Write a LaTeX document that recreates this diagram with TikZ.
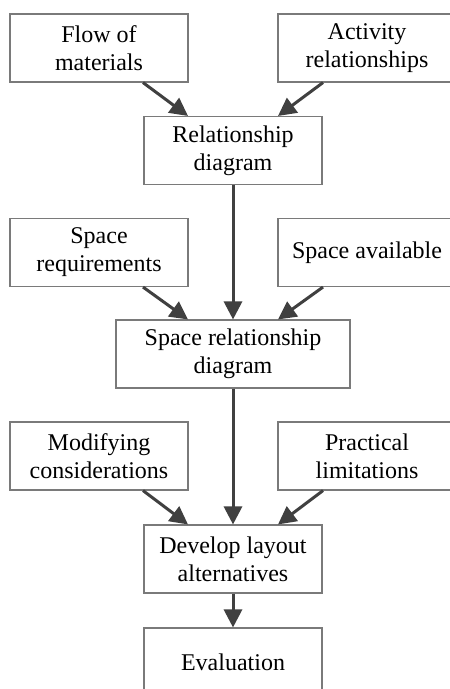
\documentclass[tikz,border=0pt]{standalone}
\usepackage{fontspec}
\setmainfont{Liberation Serif}
\usetikzlibrary{arrows.meta,calc}
\definecolor{boxline}{HTML}{7A7A7A}
\definecolor{arrcol}{HTML}{404040}
\tikzset{
  box/.style={draw=boxline, line width=1.1pt, fill=white, align=center, inner sep=0pt,
    minimum width=178pt, minimum height=68pt,
    font=\fontsize{24pt}{28pt}\selectfont, text=black},
  widebox/.style={box, minimum width=234pt},
  arr/.style={draw=arrcol, line width=3pt, -{Triangle[length=18pt,width=18pt]}}
}
\begin{document}
\begin{tikzpicture}[x=1pt,y=-1pt]
\useasboundingbox (0,0) rectangle (450,689);
\fill[white] (0,0) rectangle (450,689);
\clip (0,0) rectangle (450,689);
\node[box] (fm) at (99,48) {Flow of\\materials};
\node[box] (ar) at (367,48) {Activity\\relationships};
\node[box] (rd) at (233,150.5) {Relationship\\diagram};
\node[box] (sr) at (99,252.5) {Space\\requirements};
\node[box] (sa) at (367,252.5) {Space available};
\node[widebox] (srd) at (233,354) {Space relationship\\diagram};
\node[box] (mc) at (99,456) {Modifying\\considerations};
\node[box] (pl) at (367,456) {Practical\\limitations};
\node[box] (dla) at (233,559) {Develop layout\\alternatives};
\node[box] (ev) at (233,662) {Evaluation};
\draw[arr] ($(fm.south)+(44,0)$) -- ($(rd.north)+(-45,0)$);
\draw[arr] ($(ar.south)+(-44,0)$) -- ($(rd.north)+(45,0)$);
\draw[arr] (rd.south) -- (srd.north);
\draw[arr] ($(sr.south)+(44,0)$) -- ($(srd.north)+(-45,0)$);
\draw[arr] ($(sa.south)+(-44,0)$) -- ($(srd.north)+(45,0)$);
\draw[arr] (srd.south) -- (dla.north);
\draw[arr] ($(mc.south)+(44,0)$) -- ($(dla.north)+(-45,0)$);
\draw[arr] ($(pl.south)+(-44,0)$) -- ($(dla.north)+(45,0)$);
\draw[arr] (dla.south) -- (ev.north);
\end{tikzpicture}
\end{document}
